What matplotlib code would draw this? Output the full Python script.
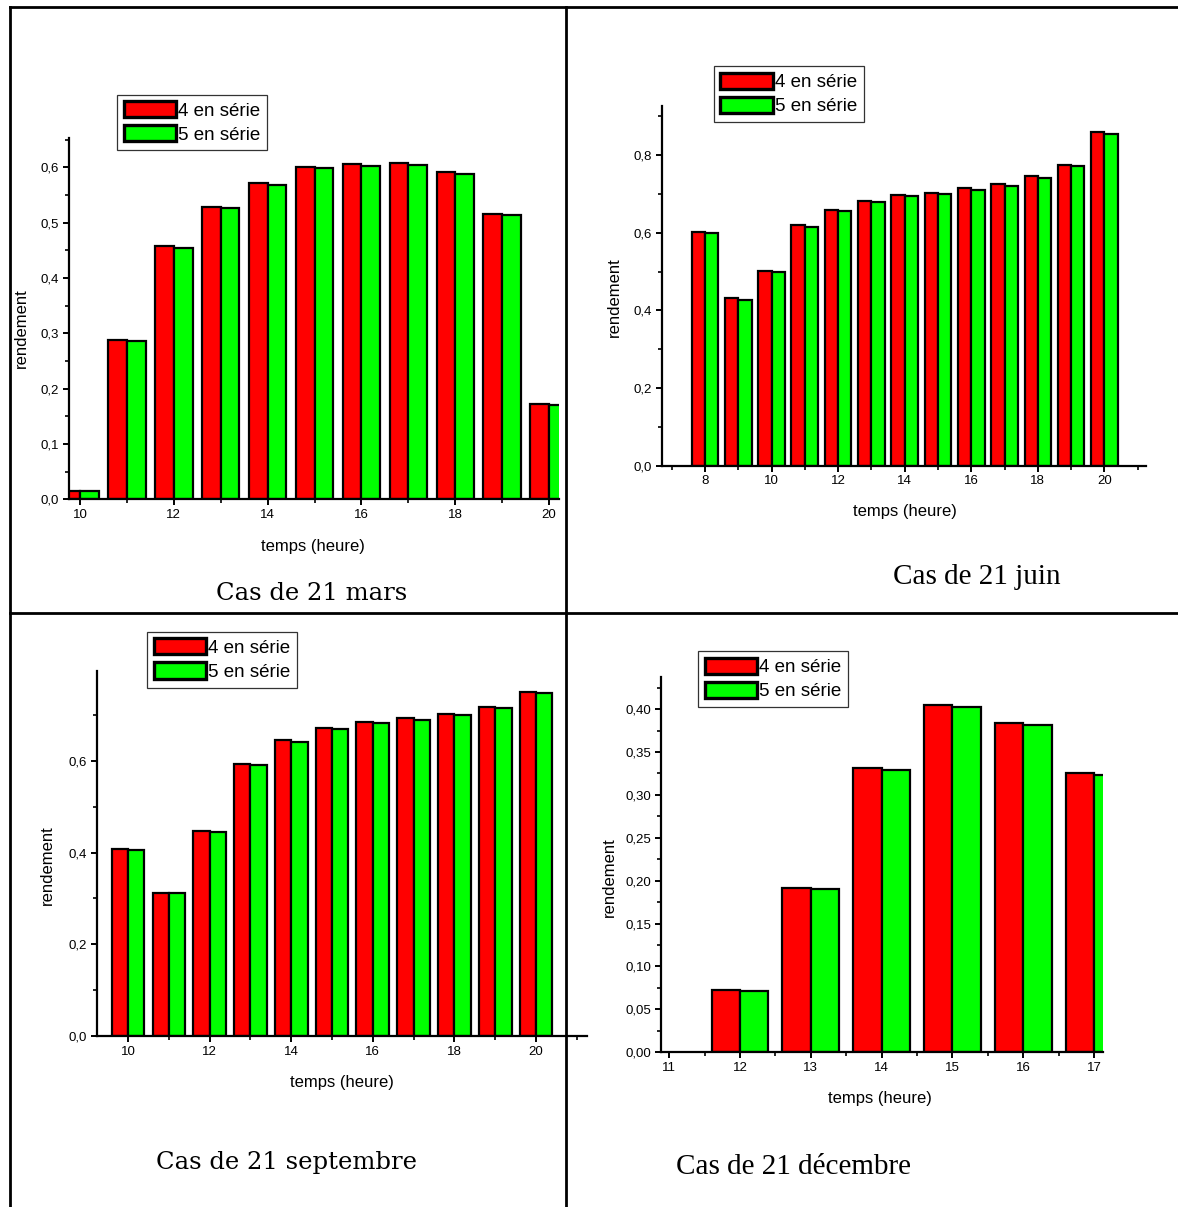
import numpy as np
import matplotlib
matplotlib.use('Agg')
import matplotlib.pyplot as plt
from matplotlib.lines import Line2D
from matplotlib.patches import Patch
from matplotlib.ticker import MultipleLocator, FuncFormatter

plt.rcParams['font.family'] = ['Liberation Sans', 'DejaVu Sans']

W, H = 1178, 1207

# data
mars_hours = [10, 11, 12, 13, 14, 15, 16, 17, 18, 19, 20]
mars_4 = [0.015, 0.288, 0.458, 0.529, 0.571, 0.601, 0.606, 0.608, 0.591, 0.516, 0.172]
mars_5 = [0.015, 0.286, 0.455, 0.526, 0.568, 0.598, 0.602, 0.605, 0.588, 0.513, 0.171]

juin_hours = [8, 9, 10, 11, 12, 13, 14, 15, 16, 17, 18, 19, 20]
juin_4 = [0.602, 0.432, 0.501, 0.620, 0.659, 0.681, 0.697, 0.704, 0.715, 0.726, 0.746, 0.775, 0.860]
juin_5 = [0.599, 0.428, 0.498, 0.616, 0.656, 0.679, 0.695, 0.701, 0.711, 0.722, 0.742, 0.773, 0.856]

sept_hours = [10, 11, 12, 13, 14, 15, 16, 17, 18, 19, 20]
sept_4 = [0.407, 0.313, 0.448, 0.593, 0.646, 0.673, 0.685, 0.694, 0.702, 0.719, 0.751]
sept_5 = [0.405, 0.311, 0.445, 0.591, 0.642, 0.669, 0.682, 0.690, 0.700, 0.715, 0.748]

dec_hours = [12, 13, 14, 15, 16, 17]
dec_4 = [0.072, 0.191, 0.331, 0.4045, 0.384, 0.325]
dec_5 = [0.071, 0.190, 0.329, 0.403, 0.382, 0.323]

series_labels = ['4 en série', '5 en série']
colors = ['#ff0000', '#00ff00']
captions = ['Cas de 21 mars', 'Cas de 21 juin', 'Cas de 21 septembre', 'Cas de 21 décembre']

fig = plt.figure(figsize=(W / 100, H / 100), dpi=100)


def pxAxes(x0, y0, x1, y1):
    return fig.add_axes([x0 / W, 1 - y1 / H, (x1 - x0) / W, (y1 - y0) / H])


def drawPanel(box, hours, red, green, xlim, ylim, xmaj, xmin, ymaj, ymin, dec,
              legendPos, xlabelPos, ylabelPos):
    x0, y0, x1, y1 = box
    ax = pxAxes(x0, y0, x1, y1)
    ax.patch.set_visible(False)
    hours = np.array(hours, dtype=float)
    ax.bar(hours - 0.2, red, width=0.4, color=colors[0], edgecolor='black', linewidth=1.6, zorder=2)
    ax.bar(hours + 0.2, green, width=0.4, color=colors[1], edgecolor='black', linewidth=1.6, zorder=2)
    ax.set_xlim(*xlim)
    ax.set_ylim(*ylim)

    for s in ['top', 'right']:
        ax.spines[s].set_visible(False)
    for s in ['left', 'bottom']:
        ax.spines[s].set_linewidth(1.6)
        ax.spines[s].set_zorder(3)

    ax.xaxis.set_major_locator(MultipleLocator(xmaj))
    ax.xaxis.set_minor_locator(MultipleLocator(xmin))
    ax.yaxis.set_major_locator(MultipleLocator(ymaj))
    ax.yaxis.set_minor_locator(MultipleLocator(ymin))
    ax.yaxis.set_major_formatter(FuncFormatter(lambda v, p: f"{v:.{dec}f}".replace('.', ',')))
    ax.xaxis.set_major_formatter(FuncFormatter(lambda v, p: f"{v:g}"))
    ax.tick_params(which='major', direction='out', length=4, width=1.4, labelsize=9.5, pad=3)
    ax.tick_params(which='minor', direction='out', length=3, width=1.2)

    ax.set_xlabel('temps (heure)', fontsize=12)
    ax.set_ylabel('rendement', fontsize=12)
    ax.xaxis.set_label_coords((xlabelPos[0] - x0) / (x1 - x0), (y1 - xlabelPos[1]) / (y1 - y0))
    ax.yaxis.set_label_coords((ylabelPos[0] - x0) / (x1 - x0), (y1 - ylabelPos[1]) / (y1 - y0))
    ax.xaxis.label.set_va('center')
    ax.yaxis.label.set_va('center')

    handles = [Patch(facecolor=c, edgecolor='black', linewidth=2.4) for c in colors]
    leg = ax.legend(handles, series_labels, loc='upper left',
                    bbox_to_anchor=(legendPos[0] / W, 1 - legendPos[1] / H),
                    bbox_transform=fig.transFigure, borderaxespad=0,
                    fontsize=13.5, fancybox=False, framealpha=1, edgecolor='#333333',
                    handlelength=2.8, handleheight=0.95, handletextpad=0.12,
                    borderpad=0.35, labelspacing=0.3)
    leg.get_frame().set_linewidth(0.9)
    return ax


drawPanel((69, 138.5, 559, 499.4), mars_hours, mars_4, mars_5, (9.767, 20.21), (0, 0.652),
          2, 1, 0.1, 0.05, 1, (117, 94.5), (313, 546), (21, 328))
drawPanel((662, 106, 1146, 465.7), juin_hours, juin_4, juin_5, (6.71, 21.25), (0, 0.927),
          2, 1, 0.2, 0.1, 1, (713.5, 66), (905, 511), (614, 297))
drawPanel((96.7, 670.8, 587, 1035.9), sept_hours, sept_4, sept_5, (9.232, 21.25), (0, 0.797),
          2, 1, 0.2, 0.1, 1, (147, 631.7), (342, 1082), (47, 865))
drawPanel((661, 677.4, 1103.2, 1052.2), dec_hours, dec_4, dec_5, (10.884, 17.13), (0, 0.437),
          1, 0.5, 0.05, 0.025, 2, (698, 651), (880, 1099), (609, 877))

# table borders
lw = 2.0
for xs, ys in [((10, W), (7, 7)), ((10, 10), (7, H)), ((566, 566), (7, H)), ((10, W), (613, 613))]:
    fig.add_artist(Line2D([x / W for x in xs], [1 - y / H for y in ys],
                          transform=fig.transFigure, color='black', linewidth=lw, zorder=0))

# captions under each chart
fig.text(312 / W, 1 - 593 / H, captions[0], family='DejaVu Serif', fontsize=17.5, ha='center', va='center')
fig.text(977 / W, 1 - 577 / H, captions[1], family='Liberation Serif', fontsize=21, ha='center', va='center')
fig.text(287 / W, 1 - 1163 / H, captions[2], family='DejaVu Serif', fontsize=17.5, ha='center', va='center')
fig.text(793 / W, 1 - 1167 / H, captions[3], family='Liberation Serif', fontsize=21, ha='center', va='center')

fig.savefig('out.png', dpi=100, facecolor='white')
